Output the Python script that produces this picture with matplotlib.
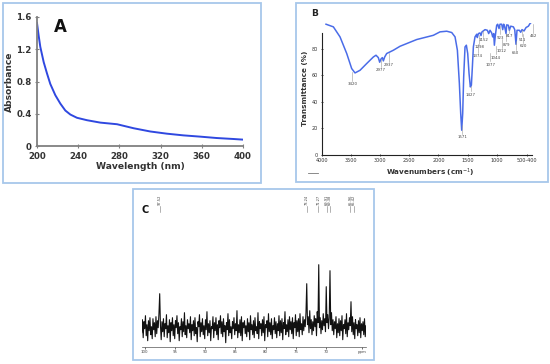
import numpy as np
import matplotlib
matplotlib.use("Agg")
import matplotlib.pyplot as plt
from matplotlib.patches import Rectangle
from matplotlib.lines import Line2D

# ---------------- Panel A: UV-Vis ----------------
uv_wavelength = [200, 201.6, 203.2, 206.5, 209.7, 212.9, 217.8, 222.7, 227.5, 232.4,
                 238.8, 248.5, 261.5, 277.7, 293.9, 310, 326, 342, 358.6, 374.4, 390.6, 400]
uv_absorbance = [1.525, 1.37, 1.23, 1.04, 0.90, 0.77, 0.63, 0.525, 0.44, 0.39,
                 0.35, 0.32, 0.29, 0.27, 0.22, 0.18, 0.153, 0.132, 0.116, 0.099, 0.087, 0.079]
uv_xticks = [200, 240, 280, 320, 360, 400]
uv_yticks = [0, 0.4, 0.8, 1.2, 1.6]
uv_yticklabels = ["0", "0.4", "0.8", "1.2", "1.6"]

# ---------------- Panel B: FT-IR ----------------
ir_wavenumber = [3926, 3800, 3686, 3571, 3486, 3429, 3343, 3229, 3114, 3069, 3029, 3006, 2983,
                 2960, 2943, 2920, 2886, 2771, 2657, 2371, 2086, 1972, 1857, 1771, 1714, 1674,
                 1640, 1617, 1600, 1583, 1566, 1543, 1520, 1497, 1474, 1452, 1434, 1417, 1400,
                 1372, 1343, 1332, 1314, 1286, 1269, 1252, 1200, 1160, 1137, 1114, 1086, 1069,
                 1051, 1040, 1023, 1000, 983, 960, 943, 914, 897, 880, 863, 840, 829, 800, 783,
                 760, 714, 691, 669, 652, 611, 589, 566, 531, 497, 457, 429, 400]
ir_transmittance = [98.7, 96.7, 89.1, 76.5, 65.1, 61.8, 63.8, 68.9, 73.9, 75.2, 73.4, 69.9, 72.4,
                    73.4, 70.9, 73.9, 76.5, 79.0, 82.0, 87.1, 90.3, 92.9, 93.4, 92.4, 89.1, 79.0,
                    53.8, 31.0, 18.4, 31.0, 58.8, 81.5, 82.8, 76.5, 61.3, 51.2, 52.5, 66.4, 81.5,
                    89.1, 91.1, 88.6, 91.6, 92.1, 90.1, 92.9, 94.6, 94.1, 91.6, 94.1, 92.1, 89.1,
                    91.6, 82.8, 90.3, 97.9, 98.7, 95.4, 98.7, 98.7, 94.6, 98.7, 96.7, 91.6, 98.2,
                    97.9, 94.1, 97.2, 96.7, 94.6, 83.5, 94.1, 94.1, 92.6, 94.6, 93.6, 96.2, 97.2,
                    99.2, 100.4]
ir_peak_labels = ["3420", "2977", "2937", "1571", "1427", "1374", "1298", "1152", "1077",
                  "1044", "1012", "923", "879", "817", "650", "620", "511", "462"]
ir_label_x = [3474, 2983, 2846, 1589, 1446, 1326, 1297, 1229, 1114, 1012, 914, 943, 840,
              789, 674, 543, 560, 372]
ir_label_y = [53.2, 63.8, 67.6, 13.4, 45.4, 74.4, 81.5, 86.6, 68.1, 73.4, 78.5, 88.6, 83.3,
              89.8, 77.0, 82.0, 87.1, 89.6]
ir_xticks = [4000, 3500, 3000, 2500, 2000, 1500, 1000]
ir_yticks = [0, 20, 40, 60, 80]

# ---------------- Panel C: 13C NMR ----------------
nmr_intensity = [
    14, 27, 9, 25, 18, 31, 11, 22, 6, 26, 16, 29, 12, 20, 8, 28, 17, 24, 10, 30,
    13, 26, 19, 33, 53, 21, 7, 25, 15, 28, 10, 23, 18, 32, 9, 21, 14, 27, 5, 24,
    16, 29, 11, 22, 8, 26, 19, 31, 13, 24, 6, 20, 17, 28, 10, 25, 15, 34, 12, 21,
    9, 27, 18, 23, 14, 30, 7, 22, 16, 26, 11, 29, 13, 19, 5, 25, 20, 32, 10, 24,
    15, 28, 12, 21, 8, 27, 17, 35, 11, 23, 14, 26, 6, 20, 18, 30, 9, 24, 16, 29,
    12, 22, 7, 26, 19, 31, 13, 25, 10, 28, 15, 21, 4, 24, 17, 33, 11, 27, 14, 20,
    8, 25, 18, 29, 12, 23, 16, 36, 9, 22, 14, 27, 11, 30, 6, 24, 19, 26, 13, 21,
    10, 28, 15, 24, 7, 31, 17, 22, 12, 26, 9, 29, 16, 20, 13, 34, 8, 25, 18, 23,
    11, 27, 14, 30, 6, 22, 19, 26, 10, 33, 15, 24, 12, 28, 8, 21, 17, 29, 13, 25,
    9, 23, 16, 31, 11, 26, 14, 28, 7, 24, 18, 35, 12, 22, 15, 27, 10, 30, 17, 25,
    13, 29, 8, 24, 19, 32, 11, 26, 15, 28, 10, 33, 17, 23, 12, 30, 16, 27, 20, 34,
    63, 22, 30, 14, 36, 18, 27, 12, 25, 16, 31, 20, 28, 11, 35, 24, 82, 19, 29, 13,
    26, 17, 33, 21, 28, 15, 60, 24, 32, 18, 29, 76, 22, 34, 16, 27, 12, 25, 18, 30,
    9, 23, 14, 28, 11, 26, 16, 31, 7, 22, 18, 27, 13, 33, 10, 24, 17, 29, 21, 45,
    15, 30, 12, 24, 8, 27, 18, 22, 11, 26, 14, 29, 9, 23, 16, 25, 12, 28, 10, 21]
nmr_ppm_start = 100.5
nmr_ppm_end = 63.4
nmr_peak_labels = ["97.52", "73.24", "71.27", "69.91", "69.38", "65.96", "65.42"]
nmr_peak_ppm = [97.5, 73.2, 71.3, 69.9, 69.4, 66.0, 65.4]
nmr_xticks = [100, 95, 90, 85, 80, 75, 70]

W, H = 550, 364
fig = plt.figure(figsize=(W / 100, H / 100), dpi=100)
fig.patch.set_facecolor("white")


def fx(px):
    return px / W


def fy(py):
    return 1 - py / H


def box(x0, y0, x1, y1):
    fig.add_artist(Rectangle((fx(x0), fy(y1)), (x1 - x0) / W, (y1 - y0) / H,
                             transform=fig.transFigure, fill=False,
                             edgecolor="#a7c7ea", lw=1.3))


box(3, 3, 261, 183)
box(296, 3, 548, 182)
box(133, 189, 374, 360)

# ---- Panel A ----
axA = fig.add_axes([fx(37), fy(146), 206 / W, 129 / H])
axA.plot(uv_wavelength, uv_absorbance, color="#2f48e0", lw=1.4)
axA.set_xlim(200, 400)
axA.set_ylim(0, 1.6)
axA.set_xticks(uv_xticks)
axA.set_yticks(uv_yticks)
axA.set_yticklabels(uv_yticklabels)
for s in ["top", "right"]:
    axA.spines[s].set_visible(False)
for s in ["left", "bottom"]:
    axA.spines[s].set_color("#808080")
    axA.spines[s].set_linewidth(1.3)
axA.tick_params(axis="both", direction="inout", length=2.5, width=0.8, color="#808080",
                labelsize=6.2, labelcolor="#333333")
axA.tick_params(axis="x", pad=3)
axA.tick_params(axis="y", pad=2.5)
for lab in axA.get_xticklabels() + axA.get_yticklabels():
    lab.set_fontweight("bold")
axA.set_xlabel("Wavelength (nm)", fontsize=6.6, fontweight="bold", color="#333333", labelpad=1)
axA.set_ylabel("Absorbance", fontsize=6.6, fontweight="bold", color="#333333", labelpad=2)
axA.text(0.08, 0.88, "A", transform=axA.transAxes, fontsize=12, fontweight="bold",
         color="#111111")

# ---- Panel B ----
axB = fig.add_axes([fx(321.7), fy(154.5), 210 / W, 132 / H])
axB.plot(ir_wavenumber, ir_transmittance, color="#4a6ce8", lw=1.1)
axB.set_xlim(4000, 400)
axB.set_ylim(0, 100)
axB.set_xticks(ir_xticks + [480])
axB.set_xticklabels([str(t) for t in ir_xticks] + ["500-400"])
axB.set_yticks(ir_yticks)
for s in ["top", "right"]:
    axB.spines[s].set_visible(False)
axB.spines["left"].set_bounds(0, 92)
for s in ["left", "bottom"]:
    axB.spines[s].set_color("#222222")
    axB.spines[s].set_linewidth(0.8)
axB.tick_params(axis="both", direction="inout", length=2, width=0.5,
                labelsize=3.5, labelcolor="#333333", pad=1.5)
for t, lx, ly in zip(ir_peak_labels, ir_label_x, ir_label_y):
    axB.text(lx, ly, t, fontsize=2.8, color="#444444", ha="center", va="center",
             clip_on=False)
    ycurve = np.interp(lx, ir_wavenumber[::-1], ir_transmittance[::-1])
    axB.add_line(Line2D([lx, lx], [ly + 2.5, min(ycurve, ly + 9)], color="#999999",
                        lw=0.4, clip_on=False))
fig.text(fx(305), fy(88), "Transmittance (%)", rotation=90, fontsize=5.2,
         fontweight="bold", color="#333333", ha="center", va="center")
fig.text(fx(430), fy(173), "Wavenumbers (cm$^{-1}$)", fontsize=5.2,
         fontweight="bold", color="#333333", ha="center", va="center")
fig.text(fx(315), fy(13), "B", fontsize=6.5, fontweight="bold", color="#222222",
         ha="center", va="center")
fig.add_artist(Line2D([fx(308), fx(318)], [fy(173), fy(173)], color="#777777", lw=0.6,
                      transform=fig.transFigure))

# ---- Panel C ----
axC = fig.add_axes([fx(141.7), fy(346.7), 224.3 / W, 154.7 / H])
nmr_ppm = np.linspace(nmr_ppm_start, nmr_ppm_end, len(nmr_intensity))
axC.plot(nmr_ppm, nmr_intensity, color="#111111", lw=0.8)
axC.set_xlim(nmr_ppm_start, nmr_ppm_end)
axC.set_ylim(0, 154.7)
for s in ["top", "right", "left"]:
    axC.spines[s].set_visible(False)
axC.spines["bottom"].set_color("#555555")
axC.spines["bottom"].set_linewidth(0.5)
axC.set_yticks([])
axC.set_xticks(nmr_xticks + [64.1])
axC.set_xticklabels([str(t) for t in nmr_xticks] + ["ppm"])
axC.tick_params(axis="x", direction="out", length=1.5, width=0.4,
                labelsize=2.8, labelcolor="#444444", pad=1)
for t, p in zip(nmr_peak_labels, nmr_peak_ppm):
    axC.text(p, 146.5, t, rotation=90, fontsize=2.6, color="#444444",
             ha="center", va="center")
    axC.add_line(Line2D([p, p], [135, 140.5], color="#777777", lw=0.4))
fig.text(fx(145), fy(210), "C", fontsize=7, fontweight="bold", color="#111111",
         ha="center", va="center")

fig.savefig("out.png", dpi=100, facecolor="white")
